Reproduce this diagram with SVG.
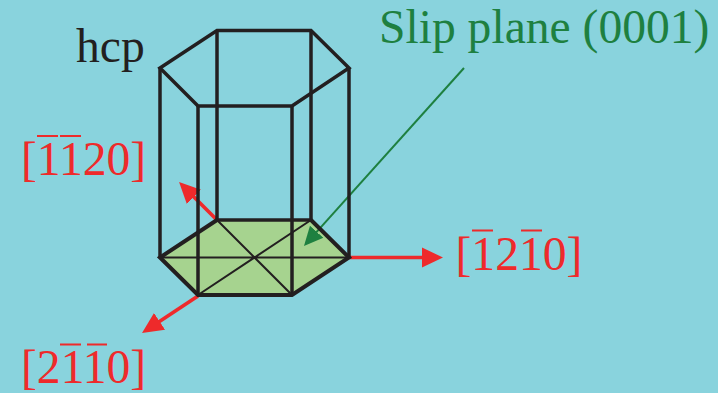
<svg xmlns="http://www.w3.org/2000/svg" width="718" height="393" viewBox="0 0 718 393">
<style>
.t{font-family:"Liberation Serif","Times New Roman",serif;font-size:47.6px}
.r{fill:#ee2a2b}
.e{fill:none;stroke:#231f20;stroke-width:3.5;stroke-linejoin:miter}
.b{fill:none;stroke:#231f20;stroke-width:4}
.i{fill:none;stroke:#231f20;stroke-width:2}
.ra{stroke:#ee2a2b;stroke-width:3.6;fill:none}
.o{stroke:#ee2a2b;stroke-width:1.8}
</style>
<defs>
<marker id="ar" markerUnits="userSpaceOnUse" markerWidth="24" markerHeight="24" refX="1" refY="11" orient="auto"><path d="M0,1 L21,11 L0,21 Z" fill="#ee2a2b"/></marker>
<marker id="ag" markerUnits="userSpaceOnUse" markerWidth="24" markerHeight="24" refX="1" refY="10" orient="auto"><path d="M0,1 L19,10 L0,19 Z" fill="#1e8040"/></marker>
</defs>
<rect width="718" height="393" fill="#89d3dd"/>
<g id="slip-plane"><polygon points="160,257.500 217,220 311.500,220 349,257.500 292,295 198,295" fill="#a6d38f"/></g>
<g id="connectors">
<line class="ra" x1="217" y1="220" x2="193.200" y2="196.200" marker-end="url(#ar)"/>
<line class="ra" x1="198" y1="296" x2="158.700" y2="322" marker-end="url(#ar)"/>
<line class="ra" x1="349" y1="257.500" x2="423" y2="257.500" marker-end="url(#ar)"/>
<line x1="464" y1="68" x2="316" y2="232.600" stroke="#1e8040" stroke-width="2" marker-end="url(#ag)"/>
</g>
<g id="hcp-cell">
<polygon class="e" points="160,68 217,30.500 311,30.500 349,68 292,106 198,106"/>
<path class="e" d="M160,68V257.500M217,30.500V220M311,30.500V220M349,68V257.500M198,106V295M292,106V295"/>
<path class="b" d="M217,220 L160,257.500 L198,295 H292 L349,257.500 L311,220"/>
<path class="e" d="M217,220H311"/>
<path class="i" d="M160,257.500H349M217,220L292,295M311,220L198,295"/>
</g>
<g id="label-hcp"><text class="t" x="76" y="62" fill="#231f20">hcp</text></g>
<g id="label-slip"><text class="t" x="379" y="43" fill="#1e8040">Slip plane (0001)</text></g>
<g id="label-1120"><text class="t r" x="21" y="175">[1120]</text><path class="o" d="M37,136H58M60,136H81"/></g>
<g id="label-1210"><text class="t r" x="455.500" y="270">[1210]</text><path class="o" d="M472,230.500H493M521,230.500H542"/></g>
<g id="label-2110"><text class="t r" x="21" y="383">[2110]</text><path class="o" d="M60,344.500H81M87,344.500H107"/></g>
</svg>
